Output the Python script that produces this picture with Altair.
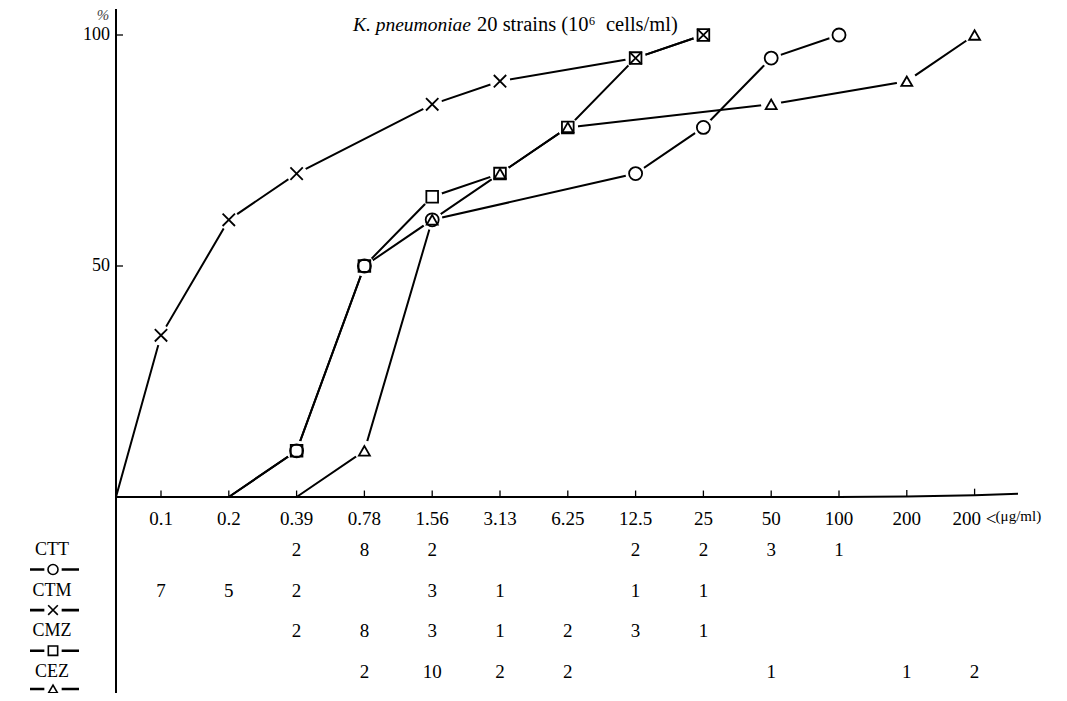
import altair as alt
import pandas as pd
import numpy as np

# ---------------- data ----------------
CONC_LABELS = ["0.1", "0.2", "0.39", "0.78", "1.56", "3.13", "6.25",
               "12.5", "25", "50", "100", "200", "200<"]
DRUGS = ["CTT", "CTM", "CMZ", "CEZ"]

# number of strains at each MIC (table under the chart)
CTT_COUNTS = [None, None, 2, 8, 2, None, None, 2, 2, 3, 1, None, None]
CTM_COUNTS = [7, 5, 2, None, 3, 1, None, 1, 1, None, None, None, None]
CMZ_COUNTS = [None, None, 2, 8, 3, 1, 2, 3, 1, None, None, None, None]
CEZ_COUNTS = [None, None, None, 2, 10, 2, 2, None, None, 1, None, 1, 2]

# cumulative % curves ("0" = origin)
CTT_X = ["0.2", "0.39", "0.78", "1.56", "12.5", "25", "50", "100"]
CTT_Y = [0, 10, 50, 60, 70, 80, 95, 100]
CTM_X = ["0", "0.1", "0.2", "0.39", "1.56", "3.13", "12.5", "25"]
CTM_Y = [0, 35, 60, 70, 85, 90, 95, 100]
CMZ_X = ["0.2", "0.39", "0.78", "1.56", "3.13", "6.25", "12.5", "25"]
CMZ_Y = [0, 10, 50, 65, 70, 80, 95, 100]
CEZ_X = ["0.39", "0.78", "1.56", "3.13", "6.25", "50", "200", "200<"]
CEZ_Y = [0, 10, 60, 70, 80, 85, 90, 100]

Y_TICKS = [50, 100]

# ---------------- layout ----------------
W, H = 1051, 685
PAGE = 8
TICK0_PX, STEP_PX = 161.0, 67.8     # page x of first tick, spacing
ZERO_PY, PX_PER_PCT = 497.0, 4.62   # page y of 0 %, px per %
ORIGIN = 1 + (116 - TICK0_PX) / STEP_PX

def xv(px):
    return 1 + (px - TICK0_PX) / STEP_PX

def yv(py):
    return (ZERO_PY - py) / PX_PER_PCT

X_DOMAIN = [xv(PAGE), xv(PAGE + W)]
Y_DOMAIN = [yv(PAGE + H), yv(PAGE)]
xs = alt.Scale(domain=X_DOMAIN, nice=False, zero=False)
ys = alt.Scale(domain=Y_DOMAIN, nice=False, zero=False)

POS = {"0": ORIGIN}
POS.update({lab: i + 1 for i, lab in enumerate(CONC_LABELS)})

FONT = "Liberation Serif"
XPATH = "M-1,-1L1,1M-1,1L1,-1"
SHAPES = ["circle", XPATH, "square", "triangle-up"]
SIZES = [170, 120, 140, 250]

curves = {"CTT": (CTT_X, CTT_Y), "CTM": (CTM_X, CTM_Y),
          "CMZ": (CMZ_X, CMZ_Y), "CEZ": (CEZ_X, CEZ_Y)}
counts = {"CTT": CTT_COUNTS, "CTM": CTM_COUNTS,
          "CMZ": CMZ_COUNTS, "CEZ": CEZ_COUNTS}

rows = []
for d in DRUGS:
    xs_, ys_ = curves[d]
    for k, (lab, v) in enumerate(zip(xs_, ys_)):
        rows.append({"drug": d, "pos": POS[lab], "pct": v, "ord": k})
curve_df = pd.DataFrame(rows)
mark_df = curve_df[curve_df.pct > 0]

X = lambda f="pos": alt.X(f + ":Q", scale=xs, axis=None)
Y = lambda f="pct": alt.Y(f + ":Q", scale=ys, axis=None)

# ---- axes ----
axis_pts = pd.DataFrame({"pos": [ORIGIN, 11, 12, 13, xv(1018)],
                         "pct": [0, 0, 0.1, 0.4, 0.7]})
x_axis = alt.Chart(axis_pts).mark_line(color="black", strokeWidth=2).encode(
    x=X(), y=Y())

tick_pos = np.arange(1, len(CONC_LABELS) + 1)
tick_base = np.interp(tick_pos, axis_pts.pos, axis_pts.pct)
ticks_df = pd.DataFrame({"pos": tick_pos, "y0": tick_base,
                         "y1": tick_base + 1.4, "lab": CONC_LABELS})
x_ticks = alt.Chart(ticks_df).mark_rule(color="black", strokeWidth=1.3).encode(
    x=X(), y=Y("y0"), y2="y1")
tick_labels_df = ticks_df.assign(
    lab=[l if l != "200<" else "200 <" for l in CONC_LABELS],
    ly=yv(519))
x_labels = alt.Chart(tick_labels_df).mark_text(
    font=FONT, fontSize=19, baseline="middle", align="center", color="black"
).encode(x=X(), y=Y("ly"), text="lab:N")
unit_df = pd.DataFrame({"pos": [13], "ly": [yv(516)], "t": ["(μg/ml)"]})
unit_lab = alt.Chart(unit_df).mark_text(
    font=FONT, fontSize=15, baseline="middle", align="left", dx=21, color="black"
).encode(x=X(), y=Y("ly"), text="t:N")

yaxis_df = pd.DataFrame({"pos": [ORIGIN], "a": [Y_DOMAIN[0] - 2], "b": [yv(9)]})
y_axis = alt.Chart(yaxis_df).mark_rule(color="black", strokeWidth=2).encode(
    x=X(), y=Y("a"), y2="b")
yt_df = pd.DataFrame({"p0": [ORIGIN] * 2, "p1": [xv(123)] * 2, "pct": Y_TICKS,
                      "lab": [str(v) for v in Y_TICKS]})
y_ticks = alt.Chart(yt_df).mark_rule(color="black", strokeWidth=1.3).encode(
    x=X("p0"), x2="p1", y=Y())
y_labels = alt.Chart(yt_df).mark_text(
    font=FONT, fontSize=18, align="right", baseline="middle", color="black"
).encode(x=alt.value(110 - PAGE), y=Y(), text="lab:N")
pct_lab = alt.Chart(pd.DataFrame({"t": ["%"]})).mark_text(
    font=FONT, fontSize=15, fontStyle="italic", color="#444", baseline="middle"
).encode(x=alt.value(103 - PAGE), y=alt.value(15 - PAGE), text="t:N")

# ---- title ----
title_df = pd.DataFrame({"a": ["K. pneumoniae"],
                         "b": ["20 strains (10⁶\u00a0\u00a0cells/ml)"]})
title_a = alt.Chart(title_df).mark_text(
    font=FONT, fontSize=19.5, fontStyle="italic", align="right",
    baseline="alphabetic", color="black"
).encode(x=alt.value(471 - PAGE), y=alt.value(31 - PAGE), text="a:N")
title_b = alt.Chart(title_df).mark_text(
    font=FONT, fontSize=20.5, align="left", baseline="alphabetic", color="black"
).encode(x=alt.value(477 - PAGE), y=alt.value(31 - PAGE), text="b:N")

# ---- curves ----
lines = alt.Chart(curve_df).mark_line(color="black", strokeWidth=2).encode(
    x=X(), y=Y(), detail="drug:N", order="ord:Q")
halo = alt.Chart(mark_df).mark_point(
    filled=True, color="white", opacity=1, size=420, shape="circle"
).encode(x=X(), y=Y())
shape_enc = alt.Shape("drug:N", scale=alt.Scale(domain=DRUGS, range=SHAPES), legend=None)
size_enc = alt.Size("drug:N", scale=alt.Scale(domain=DRUGS, range=SIZES), legend=None)
markers = alt.Chart(mark_df).mark_point(
    filled=False, color="black", opacity=1, strokeWidth=1.8
).encode(x=X(), y=Y(), shape=shape_enc, size=size_enc)

# ---- table ----
ROW_PY = [550 + 40.6 * k for k in range(len(DRUGS))]
LEG_PY = [min(p + 19.5, 689) for p in ROW_PY]
tab_rows, lab_rows = [], []
for k, d in enumerate(DRUGS):
    lab_rows.append({"drug": d, "ry": yv(ROW_PY[k]), "ly": yv(LEG_PY[k])})
    for i, c in enumerate(counts[d]):
        if c is not None:
            tab_rows.append({"pos": i + 1, "ry": yv(ROW_PY[k]), "t": str(c)})
tab_df = pd.DataFrame(tab_rows)
lab_df = pd.DataFrame(lab_rows)

cells = alt.Chart(tab_df).mark_text(
    font=FONT, fontSize=19, baseline="middle", align="center", color="black"
).encode(x=X(), y=Y("ry"), text="t:N")
row_labels = alt.Chart(lab_df).mark_text(
    font=FONT, fontSize=18, baseline="middle", align="center", color="black"
).encode(x=alt.value(52 - PAGE), y=Y("ry"), text="drug:N")
leg_line = alt.Chart(lab_df).mark_rule(color="black", strokeWidth=2.6).encode(
    x=alt.value(30 - PAGE), x2=alt.value(79 - PAGE), y=Y("ly"))
leg_halo = alt.Chart(lab_df).mark_point(
    filled=True, color="white", opacity=1, size=300, shape="square"
).encode(x=alt.value(53 - PAGE), y=Y("ly"))
leg_sizes = [100, 80, 90, 130]
leg_marks = alt.Chart(lab_df).mark_point(
    filled=False, color="black", opacity=1, strokeWidth=1.6
).encode(x=alt.value(53 - PAGE), y=Y("ly"),
         shape=alt.Shape("drug:N", scale=alt.Scale(domain=DRUGS, range=SHAPES), legend=None),
         size=alt.Size("drug:N", scale=alt.Scale(domain=DRUGS, range=leg_sizes), legend=None))

chart = alt.layer(
    x_axis, x_ticks, x_labels, unit_lab, y_axis, y_ticks, y_labels, pct_lab,
    title_a, title_b, lines, halo, markers,
    cells, row_labels, leg_line, leg_halo, leg_marks
).resolve_scale(shape="independent", size="independent").properties(
    width=W, height=H, padding=0,
    autosize=alt.AutoSizeParams(type="none"),
    background="white",
).configure_view(stroke=None)

chart.save("out.html", embed_options={"renderer": "svg", "actions": False})
